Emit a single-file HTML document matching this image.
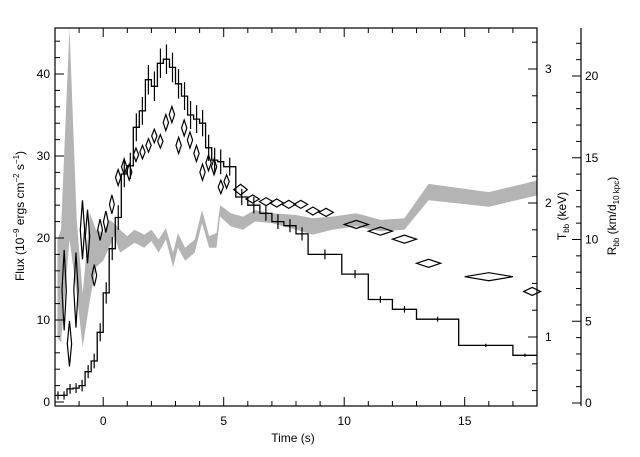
<!DOCTYPE html>
<html><head><meta charset="utf-8"><style>
html,body{margin:0;padding:0;background:#fff;}
svg{display:block;font-family:"Liberation Sans",sans-serif;}
</style></head><body>
<svg id="chart" width="640" height="457" viewBox="0 0 640 457" xmlns="http://www.w3.org/2000/svg">
<rect width="640" height="457" fill="#fff"/>
<g id="band"></g>
<g id="flux"></g>
<g id="temps"></g>
<g id="axes"></g>
<text x="293" y="442" font-size="12" text-anchor="middle">Time (s)</text>
<text transform="translate(24,216) rotate(-90)" font-size="12" text-anchor="middle">Flux (10<tspan font-size="8" dy="-5">−9</tspan><tspan dy="5"> ergs cm</tspan><tspan font-size="8" dy="-5">−2</tspan><tspan dy="5"> s</tspan><tspan font-size="8" dy="-5">−1</tspan><tspan dy="5">)</tspan></text>
<text transform="translate(566,216) rotate(-90)" font-size="12" text-anchor="middle">T<tspan font-size="8" dy="3">bb</tspan><tspan dy="-3"> (keV)</tspan></text>
<text transform="translate(616,216) rotate(-90)" font-size="12" text-anchor="middle">R<tspan font-size="8" dy="3">bb</tspan><tspan dy="-3"> (km/d</tspan><tspan font-size="8" dy="3">10 kpc</tspan><tspan dy="-3">)</tspan></text>
</svg>
<script>
// ---- data ----
const fluxEdges = [-2,-1.75,-1.5,-1.25,-1.0,-0.75,-0.5,-0.25,0,0.25,0.5,0.75,1.0,1.25,1.5,1.75,2.0,2.25,2.5,2.75,3.0,3.25,3.5,3.75,4.0,4.25,4.5,4.75,5.0,5.5,6.0,6.5,7.0,7.5,8.0,8.5,9.9,11,12,13,14.75,17,18];
const fluxValues = [0.8,0.8,1.6,1.7,2.0,3.7,5.0,8.5,13.3,18.7,22.5,27.8,28.8,33.5,35.5,39.3,38.5,41.3,41.8,40.8,38.8,37.3,35.0,34.5,34.0,31.0,29.5,29.3,28.7,25.0,24.0,23.0,22.0,21.5,20.5,18.0,15.6,12.5,11.3,10.1,6.9,5.7];
const fluxErrors = [0.5,0.5,0.6,0.6,0.7,0.8,0.9,1.1,1.3,1.4,1.5,1.6,1.6,1.7,1.7,1.8,1.8,1.8,1.8,1.8,1.8,1.7,1.7,1.7,1.6,1.6,1.5,1.5,1.1,1.0,1.0,0.9,0.9,0.8,0.8,0.6,0.5,0.4,0.4,0.3,0.2,0.2];
const tempTimes = [-1.62,-1.4,-1.13,-0.86,-0.65,-0.37,-0.13,0.11,0.36,0.62,0.87,1.08,1.36,1.63,1.88,2.12,2.37,2.6,2.85,3.13,3.36,3.6,3.87,4.12,4.37,4.6,4.88,5.12,5.7,6.2,6.76,7.2,7.7,8.2,8.7,9.25,10.5,11.5,12.5,13.5,16.0,17.8];
const tempValues = [1.35,0.95,1.35,1.8,1.75,1.46,1.8,1.86,1.99,2.19,2.27,2.23,2.36,2.38,2.43,2.5,2.46,2.6,2.66,2.43,2.56,2.47,2.37,2.23,2.3,2.27,2.12,2.16,2.1,2.03,2.01,2.0,1.99,1.99,1.94,1.93,1.84,1.79,1.73,1.55,1.45,1.34];
const tempErrT = [0.3,0.17,0.28,0.22,0.2,0.08,0.08,0.08,0.07,0.06,0.06,0.06,0.05,0.05,0.05,0.05,0.05,0.06,0.06,0.06,0.06,0.06,0.06,0.06,0.06,0.06,0.05,0.05,0.04,0.03,0.03,0.03,0.03,0.03,0.03,0.03,0.03,0.03,0.03,0.03,0.03,0.03];
const tempErrTime = [0.09,0.09,0.09,0.09,0.09,0.1,0.1,0.1,0.1,0.11,0.11,0.11,0.11,0.11,0.11,0.11,0.11,0.11,0.11,0.11,0.11,0.11,0.11,0.11,0.11,0.11,0.11,0.11,0.28,0.28,0.28,0.28,0.28,0.28,0.28,0.3,0.5,0.5,0.5,0.5,1.0,0.35];
const bandTimes = [-1.9,-1.75,-1.4,-1.1,-0.85,-0.55,-0.3,0,0.25,0.45,0.7,1.0,1.3,1.7,2.0,2.3,2.6,2.9,3.1,3.4,3.8,4.1,4.4,4.7,4.85,5.3,5.8,6.3,7.0,8.0,8.7,9.5,10.5,11.5,12.5,13.5,16.0,18.0];
const bandUpper = [10.0,10.6,23.0,11.2,6.7,11.6,10.6,10.4,11.2,11.0,10.6,10.2,10.6,10.3,10.6,10.0,10.7,9.2,10.4,9.5,10.0,11.8,10.2,10.4,12.1,11.6,11.4,11.8,11.6,11.5,11.3,11.4,11.6,11.2,11.3,13.4,12.9,13.6];
const bandLower = [4.0,3.7,10.0,6.7,3.4,6.3,8.3,8.7,9.5,10.2,9.2,9.5,9.8,9.5,9.9,9.2,10.0,8.3,9.5,8.7,9.2,11.0,9.5,9.5,11.4,10.8,10.6,11.1,11.0,10.6,10.3,10.6,10.8,10.5,10.6,12.4,12.0,12.7];
const xTicks = [0,5,10,15];
const yTicks = [0,10,20,30,40];
const tTicks = [1,2,3];
const rTicks = [0,5,10,15,20];

// ---- scales ----
const L=55,R=537,T=28,B=406;
const sx = t => L + (t+2)/20*(R-L);
const sy = f => 402 - f*8.2;
const sT = k => 471 - k*134;
const sR = r => 403 - r*16.35;
const NS="http://www.w3.org/2000/svg";
function mk(parent, tag, attrs){const e=document.createElementNS(NS,tag);for(const k in attrs)e.setAttribute(k,attrs[k]);parent.appendChild(e);return e;}

// band
const gB=document.getElementById('band');
let pts=[];
for(let i=0;i<bandTimes.length;i++)pts.push(sx(bandTimes[i]).toFixed(1)+','+Math.max(T,sR(bandUpper[i])).toFixed(1));
for(let i=bandTimes.length-1;i>=0;i--)pts.push(sx(bandTimes[i]).toFixed(1)+','+sR(bandLower[i]).toFixed(1));
const poly=mk(gB,'polygon',{points:pts.join(' '),fill:'#b4b4b4',stroke:'none'});



// flux histogram
const gF=document.getElementById('flux');
let d='';
for(let i=0;i<fluxValues.length;i++){
  const x0=sx(fluxEdges[i]),x1=sx(fluxEdges[i+1]),y=sy(fluxValues[i]);
  d+=(i===0?'M':'L')+x0.toFixed(1)+','+y.toFixed(1)+'L'+x1.toFixed(1)+','+y.toFixed(1);
}
const hp=mk(gF,'path',{d:d,fill:'none',stroke:'#000','stroke-width':1.3});


for(let i=0;i<fluxValues.length;i++){
  const xc=sx((fluxEdges[i]+fluxEdges[i+1])/2);
  const eb=mk(gF,'line',{x1:xc,x2:xc,y1:sy(fluxValues[i]+fluxErrors[i]),y2:sy(fluxValues[i]-fluxErrors[i]),stroke:'#000','stroke-width':1.2});
  
  
}

// temperature diamonds
const gT=document.getElementById('temps');
for(let i=0;i<tempTimes.length;i++){
  const cx=sx(tempTimes[i]),cy=sT(tempValues[i]);
  const hx=tempErrTime[i]*(R-L)/20, hy=tempErrT[i]*134;
  const dm=mk(gT,'polygon',{points:`${cx-hx},${cy} ${cx},${cy-hy} ${cx+hx},${cy} ${cx},${cy+hy}`,fill:'none',stroke:'#000','stroke-width':1.2});
  
  
}

// axes
const gA=document.getElementById('axes');
mk(gA,'rect',{x:L,y:T,width:R-L,height:B-T,fill:'none',stroke:'#000','stroke-width':1.2});
for(let t=-2;t<=18;t++){
  const x=sx(t),len=(t%5===0)?9:5;
  mk(gA,'line',{x1:x,x2:x,y1:B,y2:B-len,stroke:'#000'});
  mk(gA,'line',{x1:x,x2:x,y1:T,y2:T+len,stroke:'#000'});
}
xTicks.forEach(v=>{const e=mk(gA,'text',{x:sx(v),y:425,'font-size':12,'text-anchor':'middle'});e.textContent=v;
  
  });
for(let f=0;f<=44;f+=2){
  const y=sy(f),len=(f%10===0)?9:5;
  mk(gA,'line',{x1:L,x2:L+len,y1:y,y2:y,stroke:'#000'});
}
yTicks.forEach(v=>{const e=mk(gA,'text',{x:50,y:sy(v)+4,'font-size':12,'text-anchor':'end'});e.textContent=v;
  
  });
for(let k=0.6;k<=3.3;k+=0.2){
  const kk=Math.round(k*10)/10,y=sT(kk),len=(Math.abs(kk-Math.round(kk))<0.01)?9:5;
  mk(gA,'line',{x1:R,x2:R-len,y1:y,y2:y,stroke:'#000'});
}
tTicks.forEach(v=>{const e=mk(gA,'text',{x:545,y:sT(v)+4,'font-size':12});e.textContent=v;
  
  });
mk(gA,'line',{x1:581,x2:581,y1:T,y2:B,stroke:'#000','stroke-width':1.2});
for(let r=0;r<=22;r++){
  const y=sR(r),len=(r%5===0)?9:5;
  mk(gA,'line',{x1:581,x2:581-len,y1:y,y2:y,stroke:'#000'});
}
rTicks.forEach(v=>{const e=mk(gA,'text',{x:585,y:sR(v)+4,'font-size':12});e.textContent=v;
  
  });
</script>
</body></html>
